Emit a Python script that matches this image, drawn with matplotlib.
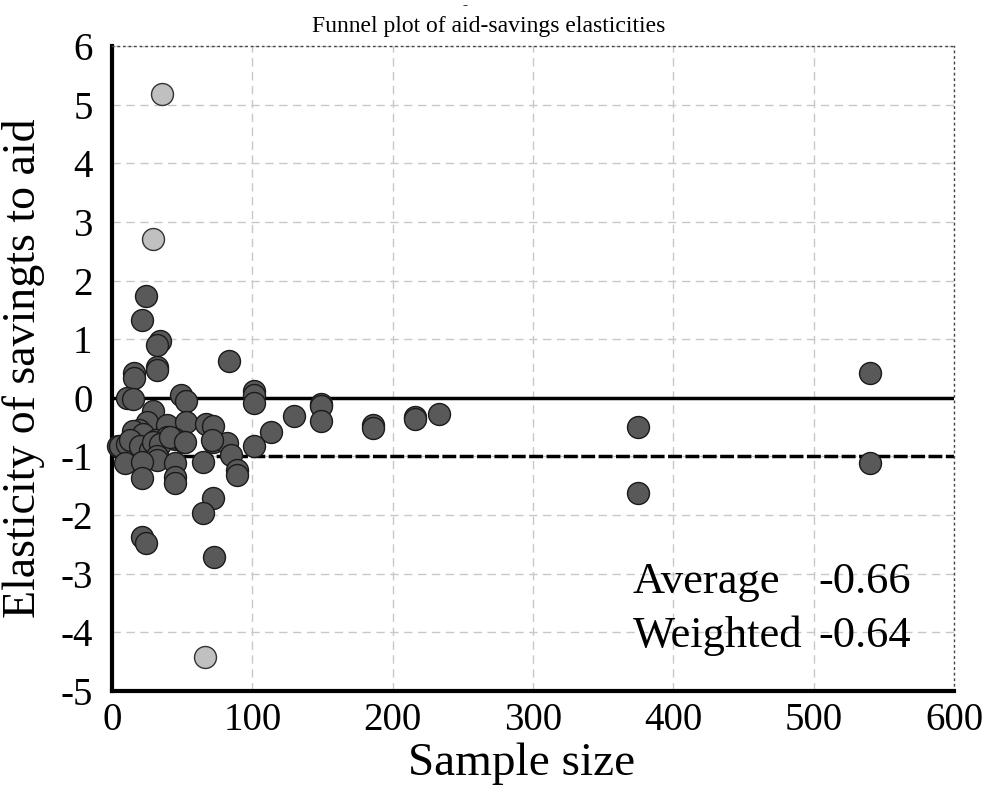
import matplotlib
matplotlib.use("Agg")
import matplotlib.pyplot as plt
import numpy as np

# sample size and elasticity estimates
sample_size = [24, 21, 34, 32, 32, 32, 16, 16, 83,
               11, 15, 49, 53, 101, 101, 101,
               130, 149, 149, 149, 186, 186, 216, 216, 233,
               375, 375, 540, 540,
               113, 29, 25, 39, 53, 67, 72,
               19, 15, 22, 31, 39, 45, 51, 72, 82, 101, 4.5, 6, 11, 13, 20, 27, 32, 29, 34, 41, 52, 71,
               85, 32, 32, 9, 21, 45, 65, 89, 89, 21, 45, 45,
               72, 65, 21, 24, 73]
elasticity = [1.74, 1.32, 0.97, 0.90, 0.53, 0.47, 0.42, 0.34, 0.63,
              0.0, -0.02, 0.04, -0.06, 0.12, 0.05, -0.08,
              -0.31, -0.10, -0.14, -0.40, -0.47, -0.51, -0.32, -0.36, -0.28,
              -0.50, -1.63, 0.43, -1.12,
              -0.58, -0.22, -0.41, -0.46, -0.41, -0.44, -0.48,
              -0.55, -0.57, -0.61, -0.72, -0.66, -0.70, -0.75, -0.75, -0.77, -0.82, -0.82, -0.83, -0.78, -0.72, -0.83, -0.89, -0.90, -0.75, -0.78, -0.66, -0.75, -0.72,
              -0.98, -1.00, -1.06, -1.12, -1.09, -1.12, -1.10, -1.23, -1.31, -1.37, -1.35, -1.45,
              -1.70, -1.96, -2.37, -2.47, -2.71]

# outliers drawn in light grey
outlier_size = [35.4, 29.4, 66.5]
outlier_elasticity = [5.18, 2.71, -4.42]

average = -0.66
weighted = -0.64

plt.rcParams['font.family'] = ['Liberation Serif', 'DejaVu Serif']
plt.rcParams['axes.unicode_minus'] = False

fig = plt.figure(figsize=(9.88, 7.96), dpi=100)
ax = fig.add_axes([0.1134, 0.1319, 0.8522, 0.8103])

ax.set_xlim(0, 600)
ax.set_ylim(-5, 6)
ax.set_xticks(range(0, 601, 100))
ax.set_yticks(range(-5, 7))
ax.grid(True, color='#c8c8c8', linestyle=(0, (6, 4)), linewidth=1)
ax.set_axisbelow(True)

ax.axhline(0, color='black', linewidth=2.5, zorder=2)
ax.axhline(-1, color='black', linewidth=2.5, linestyle=(0, (4, 1)), zorder=2)

ax.scatter(sample_size, elasticity, s=250, color='#595959', edgecolors='#1a1a1a',
           linewidths=1, zorder=3, clip_on=False)
ax.scatter(outlier_size, outlier_elasticity, s=250, color='#c0c0c0', edgecolors='#333333',
           linewidths=1, zorder=3)

for side in ['left', 'bottom']:
    ax.spines[side].set_linewidth(3)
    ax.spines[side].set_color('black')
for side in ['top', 'right']:
    ax.spines[side].set_linewidth(1)
    ax.spines[side].set_linestyle((0, (1, 3)))
    ax.spines[side].set_color('#444444')

ax.tick_params(axis='both', length=0, labelsize=28)
ax.tick_params(axis='y', pad=14)
ax.tick_params(axis='x', pad=8)

ax.set_xlabel("Sample size", fontsize=34)
ax.xaxis.set_label_coords(0.486, -0.08)
ax.set_ylabel("Elasticity of savingts to aid", fontsize=33)
ax.yaxis.set_label_coords(-0.08, 0.5)

ax.text(371, -3.33, "Average", fontsize=32, va='baseline')
ax.text(503, -3.33, "%.2f" % average, fontsize=32, va='baseline')
ax.text(371, -4.25, "Weighted", fontsize=32, va='baseline')
ax.text(503, -4.25, "%.2f" % weighted, fontsize=32, va='baseline')

fig.text(0.495, 0.96, "Funnel plot of aid-savings elasticities", ha='center', fontsize=17)
fig.text(0.471, 0.993, "-", ha='center', va='center', fontsize=11, fontweight='bold')

fig.savefig("out.png", dpi=100)
